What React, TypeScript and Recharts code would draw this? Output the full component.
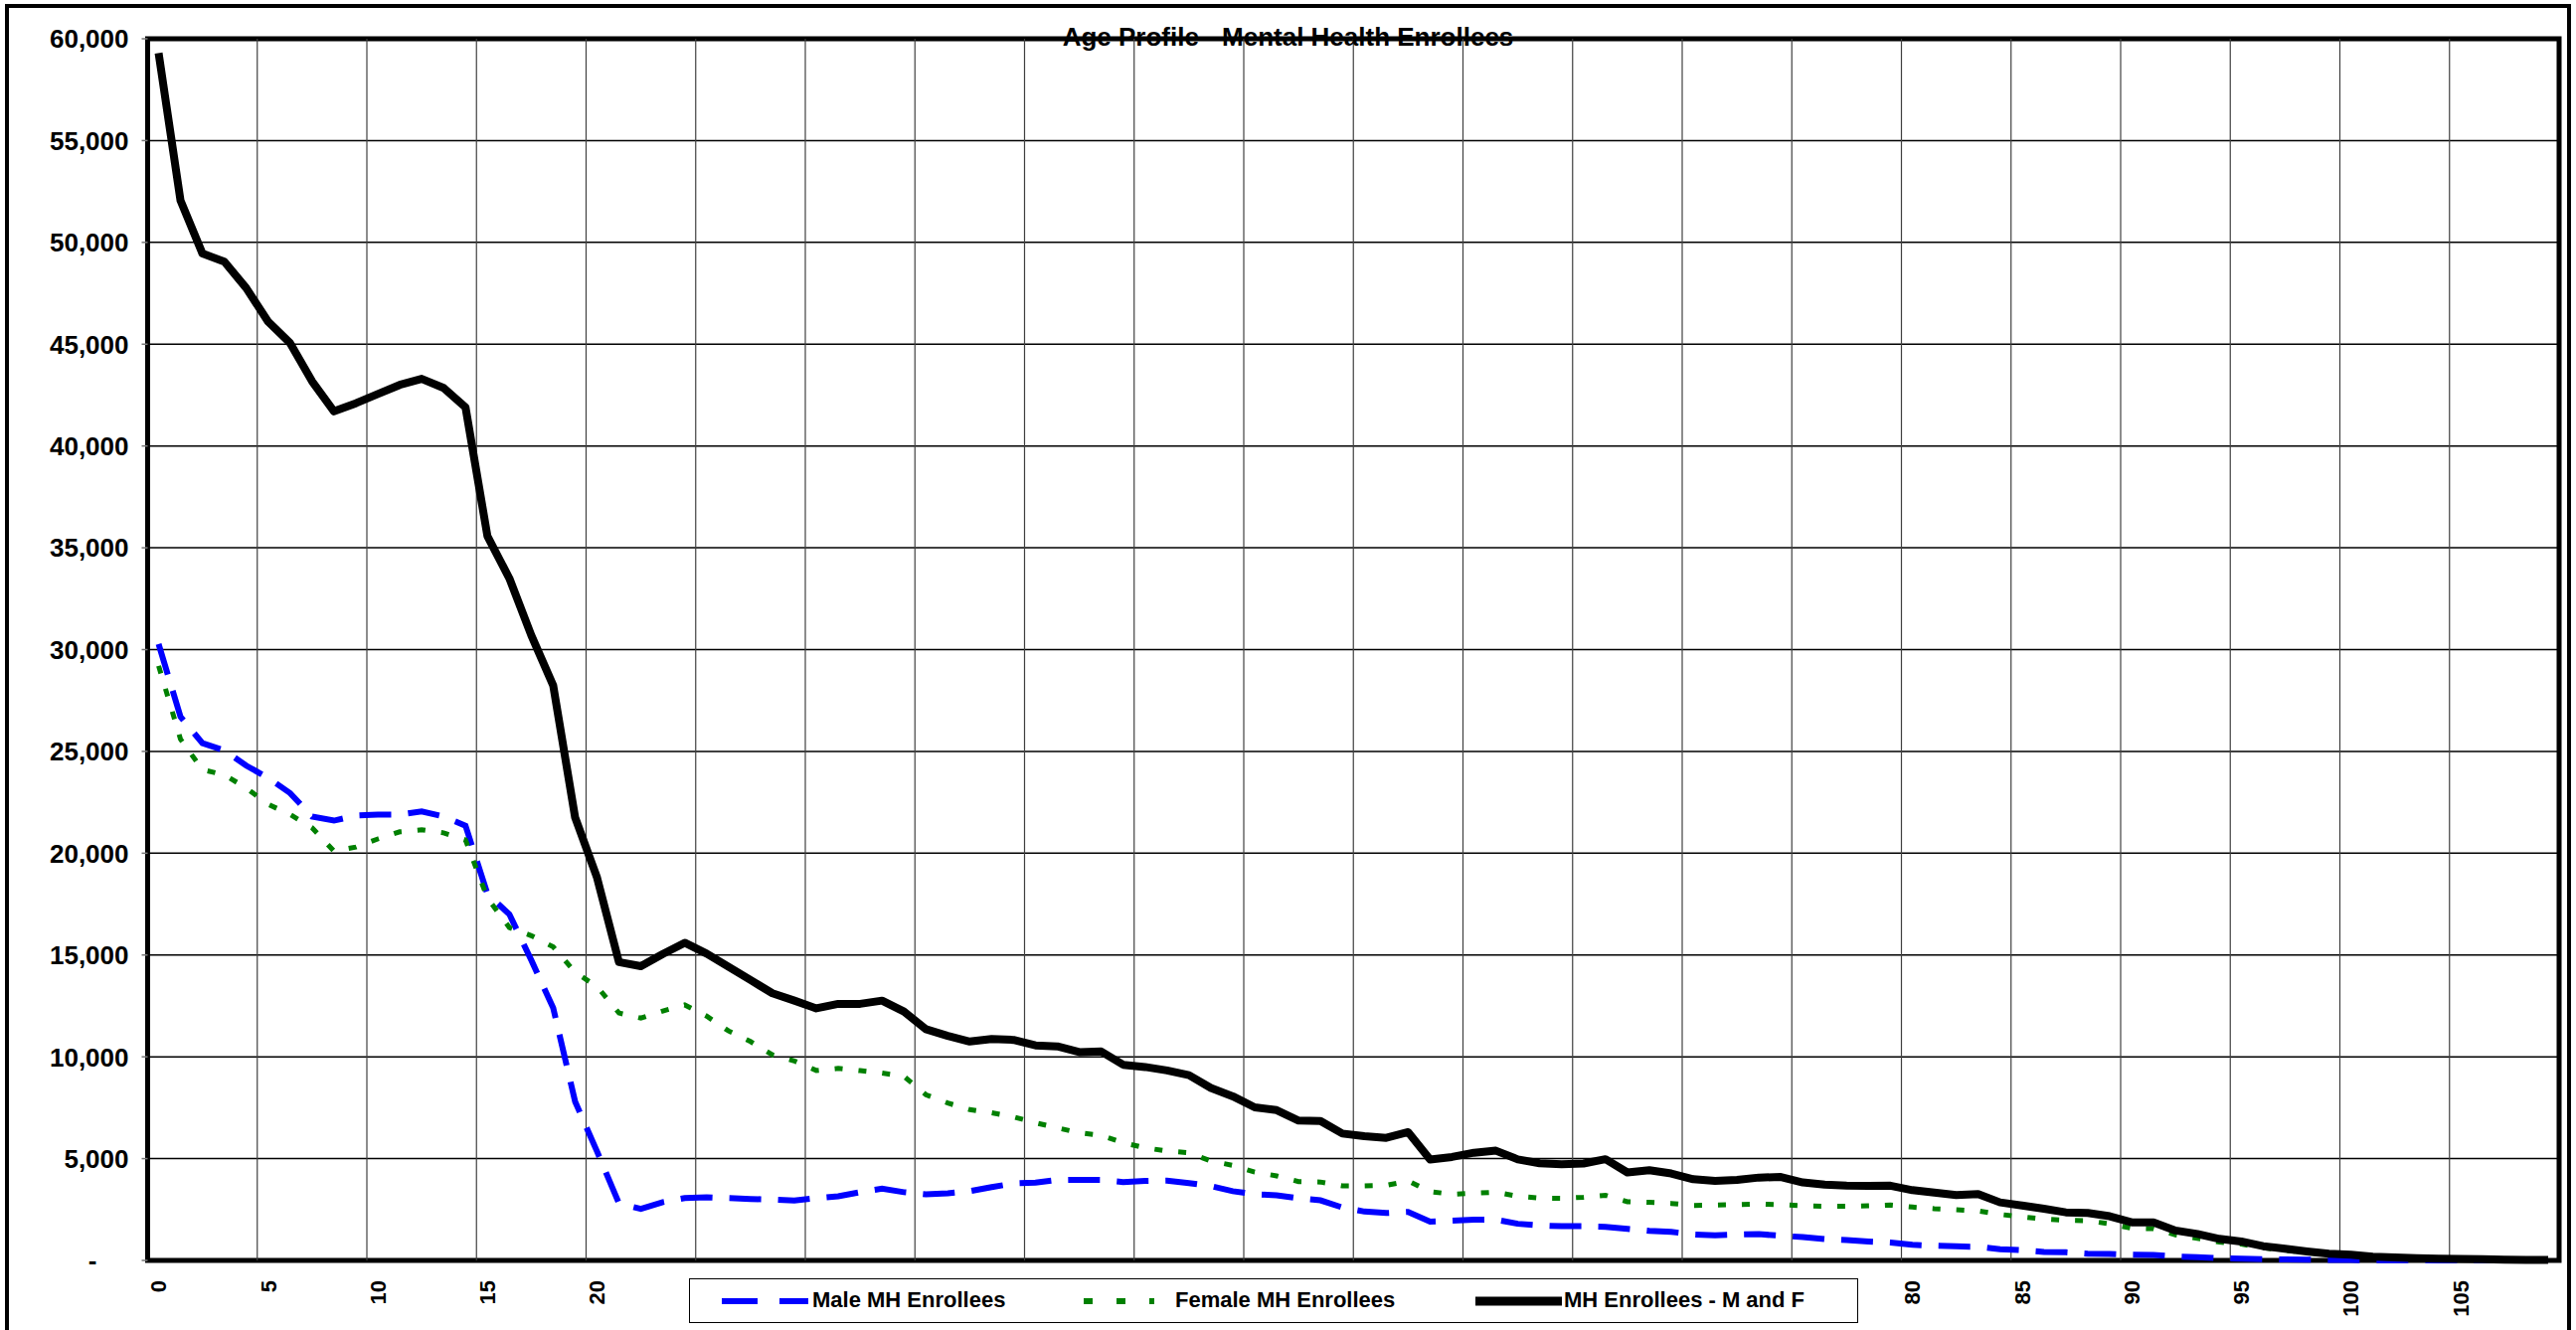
import React from "react";
import {
  LineChart,
  Line,
  XAxis,
  YAxis,
  Legend,
  ReferenceArea,
  ReferenceLine,
} from "recharts";

// ages 0..109
const ages: number[] = Array.from({ length: 110 }, (_, i) => i);

const maleEnrollees = [
  30270, 26700, 25400, 25050, 24300, 23700, 22950, 21800, 21600, 21850,
  21900, 21900, 22050, 21800, 21350, 18000, 17000, 14750, 12400, 7800,
  5350, 2800, 2530, 2860, 3060, 3100, 3060, 3020, 2990, 2940,
  3060, 3150, 3350, 3520, 3350, 3250, 3300, 3400, 3600, 3780,
  3820, 3950, 3960, 3950, 3850, 3900, 3920, 3800, 3650, 3400,
  3250, 3200, 3050, 2950, 2600, 2400, 2330, 2380, 1900, 1950,
  2000, 2000, 1800, 1720, 1680, 1680, 1650, 1550, 1450, 1400,
  1280, 1230, 1270, 1290, 1210, 1150, 1050, 1000, 930, 880,
  770, 720, 690, 670, 550, 500, 420, 400, 330, 320,
  280, 270, 200, 160, 110, 80, 60, 45, 35, 25,
  20, 12, 10, 8, 6, 4, 3, 2, 1, 1,
];

const femaleEnrollees = [
  29200, 25600, 24100, 23850, 23200, 22400, 21900, 21250, 20100, 20300,
  20700, 21050, 21150, 21000, 20650, 17800, 16350, 15950, 15400, 14150,
  13450, 12150, 11900, 12250, 12550, 12000, 11270, 10750, 10100, 9800,
  9330, 9430, 9320, 9200, 9040, 8140, 7730, 7410, 7250, 7050,
  6760, 6510, 6270, 6140, 5780, 5530, 5370, 5290, 4880, 4670,
  4340, 4150, 3870, 3850, 3660, 3660, 3690, 3900, 3380, 3250,
  3300, 3350, 3150, 3060, 3050, 3100, 3200, 2880, 2850, 2800,
  2700, 2720, 2740, 2770, 2740, 2680, 2660, 2660, 2680, 2720,
  2620, 2540, 2490, 2430, 2260, 2140, 2030, 1970, 1950, 1800,
  1580, 1560, 1260, 1090, 900, 800, 620, 500, 380, 290,
  230, 160, 120, 90, 70, 50, 35, 25, 15, 10,
];

const totalEnrollees = [
  59300, 52050, 49450, 49050, 47750, 46100, 45050, 43180, 41700, 42100,
  42550, 43000, 43300, 42850, 41900, 35570, 33500, 30700, 28240, 21750,
  18800, 14650, 14450, 15050, 15600, 15070, 14420, 13770, 13120, 12760,
  12380, 12600, 12600, 12760, 12220, 11360, 11030, 10750, 10870, 10830,
  10560, 10510, 10230, 10260, 9610, 9500, 9330, 9100, 8470, 8060,
  7520, 7380, 6870, 6850, 6230, 6100, 6020, 6300, 4960, 5080,
  5290, 5390, 4960, 4770, 4720, 4760, 4970, 4320, 4430, 4270,
  3990, 3910, 3950, 4070, 4100, 3830, 3720, 3670, 3660, 3670,
  3450, 3330, 3210, 3260, 2850, 2700, 2540, 2360, 2330, 2170,
  1870, 1870, 1470, 1300, 1060, 930, 700, 570, 440, 330,
  280, 180, 150, 110, 90, 70, 55, 40, 30, 20,
];

const xTicks = [0, 5, 10, 15, 20, 25, 30, 35, 40, 45, 50, 55, 60, 65, 70, 75, 80, 85, 90, 95, 100, 105];
const yTicks = [0, 5000, 10000, 15000, 20000, 25000, 30000, 35000, 40000, 45000, 50000, 55000, 60000];

const data = ages.map((age, i) => ({
  age,
  male: maleEnrollees[i],
  female: femaleEnrollees[i],
  total: totalEnrollees[i],
}));

const FONT = "'Liberation Sans', Arial, sans-serif";

const CHART_W = 2591;
const CHART_H = 1338;
const MARGIN = { top: 39, right: 17, bottom: 10, left: 8 };
const Y_AXIS_W = 140.5;

// vertical gridlines sit between categories, every 5 ages
const gridBounds = xTicks.slice(1).map((t) => t - 0.5);

const YTick = ({ x, y, payload }: any) => {
  const v = payload.value as number;
  return (
    <text
      x={v === 0 ? x - 32 : x}
      y={y}
      dy="0.36em"
      textAnchor="end"
      fontFamily={FONT}
      fontWeight="bold"
      fontSize={26}
      fill="#000"
    >
      {v === 0 ? "-" : v.toLocaleString("en-US")}
    </text>
  );
};

const XTick = ({ x, y, payload }: any) => (
  <text
    transform={`translate(${x},${y}) rotate(-90)`}
    dy="0.36em"
    textAnchor="end"
    fontFamily={FONT}
    fontWeight="bold"
    fontSize={22}
    fill="#000"
  >
    {payload.value}
  </text>
);

const legendItems = [
  { label: "Male MH Enrollees", color: "#0000FF", width: 6, dash: "36 22", sx: 32, sw: 87, tx: 123 },
  { label: "Female MH Enrollees", color: "#008000", width: 6, dash: "9 24", sx: 396, sw: 71, tx: 488 },
  { label: "MH Enrollees - M and F", color: "#000000", width: 9, dash: undefined, sx: 790, sw: 87, tx: 879 },
];

const LegendBox = () => (
  <div
    style={{
      position: "relative",
      width: 1176,
      height: 45,
      background: "#fff",
      border: "1.5px solid #000",
      boxSizing: "border-box",
      fontFamily: FONT,
    }}
  >
    {legendItems.map((it) => (
      <React.Fragment key={it.label}>
        <svg
          width={it.sw}
          height={12}
          style={{ position: "absolute", left: it.sx, top: 16 }}
        >
          <line
            x1={0}
            y1={6}
            x2={it.sw}
            y2={6}
            stroke={it.color}
            strokeWidth={it.width}
            strokeDasharray={it.dash}
          />
        </svg>
        <span
          style={{
            position: "absolute",
            left: it.tx,
            top: 8,
            fontSize: 22,
            fontWeight: "bold",
            lineHeight: "26px",
            whiteSpace: "nowrap",
            color: "#000",
          }}
        >
          {it.label}
        </span>
      </React.Fragment>
    ))}
  </div>
);

export default function App() {
  return (
    <div
      style={{
        position: "absolute",
        left: 0,
        top: 0,
        width: CHART_W,
        height: CHART_H,
        overflow: "hidden",
        background: "#fff",
      }}
    >
      <LineChart width={CHART_W} height={CHART_H} data={data} margin={MARGIN}>
        {yTicks.slice(1, -1).map((t) => (
          <ReferenceLine key={`h${t}`} y={t} stroke="#000" strokeWidth={1.5} />
        ))}
        {gridBounds.map((b) => (
          <ReferenceLine key={`v${b}`} x={b} stroke="#404040" strokeWidth={1.2} />
        ))}
        <XAxis
          dataKey="age"
          type="number"
          domain={[-0.5, 109.5]}
          ticks={xTicks}
          interval={0}
          allowDataOverflow
          axisLine={false}
          tickLine={false}
          tickSize={0}
          tickMargin={20}
          height={60}
          tick={<XTick />}
        />
        <YAxis
          type="number"
          domain={[0, 60000]}
          ticks={yTicks}
          interval={0}
          width={Y_AXIS_W}
          axisLine={false}
          tickLine={{ stroke: "#777", strokeWidth: 1.5 }}
          tickSize={6}
          tickMargin={13}
          tick={<YTick />}
        />
        <Line
          type="linear"
          dataKey="male"
          name="Male MH Enrollees"
          stroke="#0000FF"
          strokeWidth={6}
          strokeDasharray="32 17"
          dot={false}
          isAnimationActive={false}
        />
        <Line
          type="linear"
          dataKey="female"
          name="Female MH Enrollees"
          stroke="#008000"
          strokeWidth={5}
          strokeDasharray="8 16"
          dot={false}
          isAnimationActive={false}
        />
        <Line
          type="linear"
          dataKey="total"
          name="MH Enrollees - M and F"
          stroke="#000000"
          strokeWidth={8}
          strokeLinejoin="round"
          dot={false}
          isAnimationActive={false}
        />
        <ReferenceArea
          x1={-0.5}
          x2={109.5}
          y1={0}
          y2={60000}
          fill="none"
          fillOpacity={0}
          stroke="#000"
          strokeWidth={5}
          ifOverflow="visible"
        />
        <Legend
          layout="horizontal"
          verticalAlign="middle"
          align="center"
          content={<LegendBox />}
          wrapperStyle={{ left: 693, top: 1286, width: 1176, height: 45 }}
        />
      </LineChart>
      <div
        style={{
          position: "absolute",
          left: 0,
          width: CHART_W,
          top: 22,
          textAlign: "center",
          fontFamily: FONT,
          fontWeight: "bold",
          fontSize: 26,
          lineHeight: "30px",
          color: "#000",
          pointerEvents: "none",
        }}
      >
        Age Profile - Mental Health Enrollees
      </div>
      <div
        style={{
          position: "absolute",
          left: 5,
          top: 4,
          width: 2581,
          height: 1400,
          border: "4px solid #000",
          boxSizing: "border-box",
          pointerEvents: "none",
        }}
      />
    </div>
  );
}
